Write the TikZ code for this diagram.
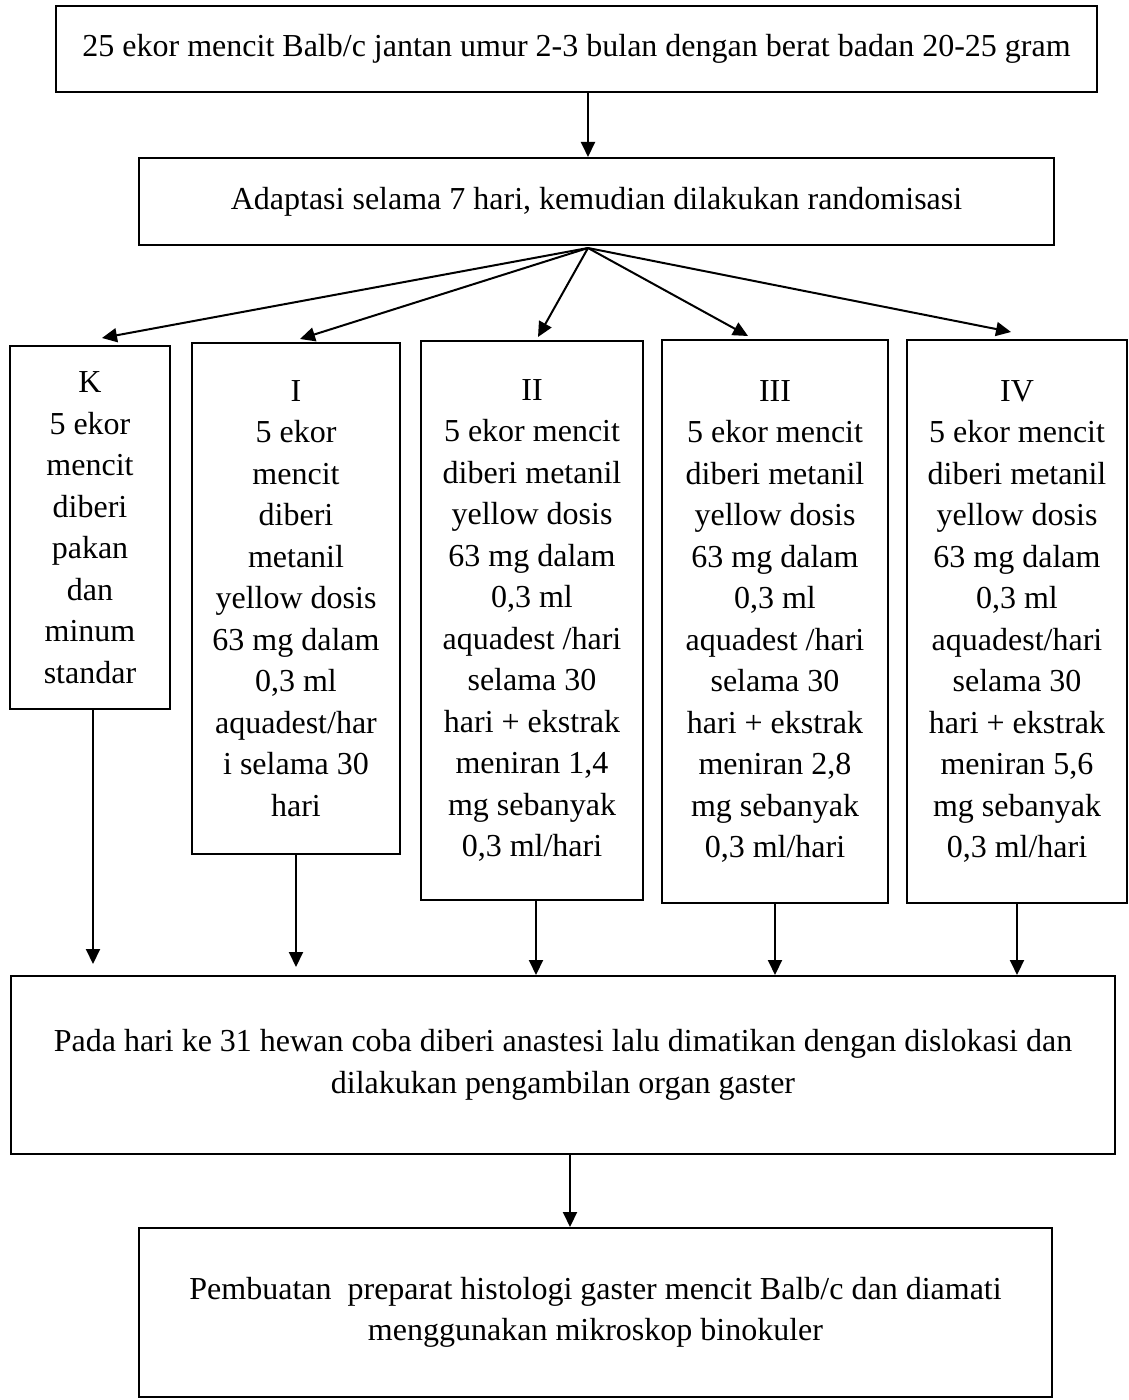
\documentclass[tikz,border=0pt]{standalone}
\usepackage{fontspec}
\setmainfont{Liberation Serif}
\usetikzlibrary{arrows.meta}

\begin{document}
\begin{tikzpicture}[x=0.5pt,y=-0.5pt,
	box/.style={draw,line width=1pt,inner sep=0pt,align=center,font=\fontsize{16pt}{20.75pt}\selectfont},
	arr/.style={line width=1pt,-{Triangle[length=7.5pt,width=7pt]}}]
	\useasboundingbox (0,0) rectangle (1128,1400);
	
	\node[box,minimum width=520.5pt,minimum height=43pt] (mice) at (576.5,49) {25 ekor mencit Balb/c jantan umur 2-3 bulan dengan berat badan 20-25 gram};
	\node[box,minimum width=457.5pt,minimum height=43.5pt] (adapt) at (596.5,201.5) {Adaptasi selama 7 hari, kemudian dilakukan randomisasi};
	\coordinate (fan) at ([xshift=-4.25pt,yshift=-1pt]adapt.south);
	
	\node[box,minimum width=80pt,minimum height=181.5pt] (K) at (90,527.5) {K\\5 ekor\\mencit\\diberi\\pakan\\dan\\minum\\standar};
	\node[box,minimum width=104pt,minimum height=255.5pt] (I) at (296,598.5) {I\\5 ekor\\mencit\\diberi\\metanil\\yellow dosis\\63 mg dalam\\0,3 ml\\aquadest/har\\i selama 30\\hari};
	\node[box,minimum width=111pt,minimum height=279.5pt] (II) at (532,620.5) {II\\5 ekor mencit\\diberi metanil\\yellow dosis\\63 mg dalam\\0,3 ml\\aquadest /hari\\selama 30\\hari + ekstrak\\meniran 1,4\\mg sebanyak\\0,3 ml/hari};
	\node[box,minimum width=113pt,minimum height=281.5pt] (III) at (775,621.5) {III\\5 ekor mencit\\diberi metanil\\yellow dosis\\63 mg dalam\\0,3 ml\\aquadest /hari\\selama 30\\hari + ekstrak\\meniran 2,8\\mg sebanyak\\0,3 ml/hari};
	\node[box,minimum width=110pt,minimum height=281.5pt] (IV) at (1017,621.5) {IV\\5 ekor mencit\\diberi metanil\\yellow dosis\\63 mg dalam\\0,3 ml\\aquadest/hari\\selama 30\\hari + ekstrak\\meniran 5,6\\mg sebanyak\\0,3 ml/hari};
	
	\node[box,minimum width=552pt,minimum height=89pt] (organ) at (563,1065) {Pada hari ke 31 hewan coba diberi anastesi lalu dimatikan dengan dislokasi dan\\dilakukan pengambilan organ gaster};
	\node[box,minimum width=456.5pt,minimum height=84.5pt] (histo) at (595.5,1312.5) {Pembuatan\ \ preparat histologi gaster mencit Balb/c dan diamati\\menggunakan mikroskop binokuler};
	
	\draw[arr] (mice.south -| fan) -- (adapt.north -| fan);
	\draw[arr] (fan) -- ([shift={(12,-7)}]K.north);
	\draw[arr] (fan) -- ([shift={(4,-3)}]I.north);
	\draw[arr] (fan) -- ([shift={(6,-3)}]II.north);
	\draw[arr] (fan) -- ([shift={(-27,-3)}]III.north);
	\draw[arr] (fan) -- ([shift={(-6,-7)}]IV.north);
	
	\draw[arr,shorten >=5.5pt] ([xshift=1.5pt]K.south) -- ([xshift=1.5pt]K.south |- organ.north);
	\draw[arr,shorten >=4pt] (I.south) -- (I.south |- organ.north);
	\draw[arr] ([xshift=2pt]II.south) -- ([xshift=2pt]II.south |- organ.north);
	\draw[arr] (III.south) -- (III.south |- organ.north);
	\draw[arr] (IV.south) -- (IV.south |- organ.north);
	
	\draw[arr] ([xshift=3.5pt]organ.south) -- ([xshift=3.5pt]organ.south |- histo.north);
\end{tikzpicture}
\end{document}
